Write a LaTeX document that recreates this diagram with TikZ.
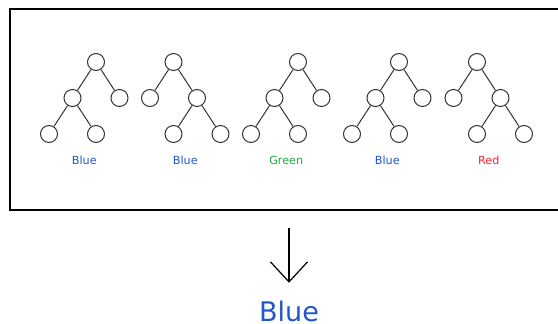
\documentclass[tikz,border=0pt]{standalone}
\usepackage{fontspec}
\setmainfont{DejaVu Sans}
\usetikzlibrary{arrows.meta}
\definecolor{voteblue}{HTML}{2255CC}
\definecolor{votegreen}{HTML}{22AA44}
\definecolor{votered}{HTML}{FF2233}
\tikzset{
	knot/.style={circle,draw=black!80,line width=1pt,minimum size=17pt,inner sep=0pt},
	twig/.style={draw=black!80,line width=1pt},
	vote/.style={font=\fontsize{11.2}{13}\selectfont}
}

\begin{document}
\begin{tikzpicture}[x=1pt,y=-1pt]
		\useasboundingbox (0,0) rectangle (558,324);
		\draw[line width=2pt] (9.5,8.5) rectangle (575,210);
		
		% five trees, \s tells which child branches
		\foreach \r/\s/\c/\t [count=\i] in {96/-1/voteblue/Blue, 173.5/1/voteblue/Blue, 298/-1/votegreen/Green, 399/-1/voteblue/Blue, 477/1/votered/Red}{
			\node[knot] (top\i) at (\r,62) {};
			\node[knot] (kid\i) at ({\r+(\s)*23.5},98) {};
			\node[knot] (tip\i) at ({\r-(\s)*23.5},98) {};
			\node[knot] (low\i) at ({\r+(\s)*23.5-23.5},134) {};
			\node[knot] (high\i) at ({\r+(\s)*23.5+23.5},134) {};
			\draw[twig] (top\i)--(kid\i) (top\i)--(tip\i) (kid\i)--(low\i) (kid\i)--(high\i);
			\node[vote,text=\c] (vote\i) at ({\r+(\s)*11.75},160) {\t};
		}
		
		\coordinate (from) at (289,228);
		\node[anchor=base,inner sep=0pt,text=voteblue,font=\fontsize{27}{32}\selectfont] (result) at (289,321) {Blue};
		\draw[-{Straight Barb[length=20pt,width=37pt]},line width=1.2pt,shorten >=17.5pt] (from)--(result.north);
	\end{tikzpicture}
\end{document}
